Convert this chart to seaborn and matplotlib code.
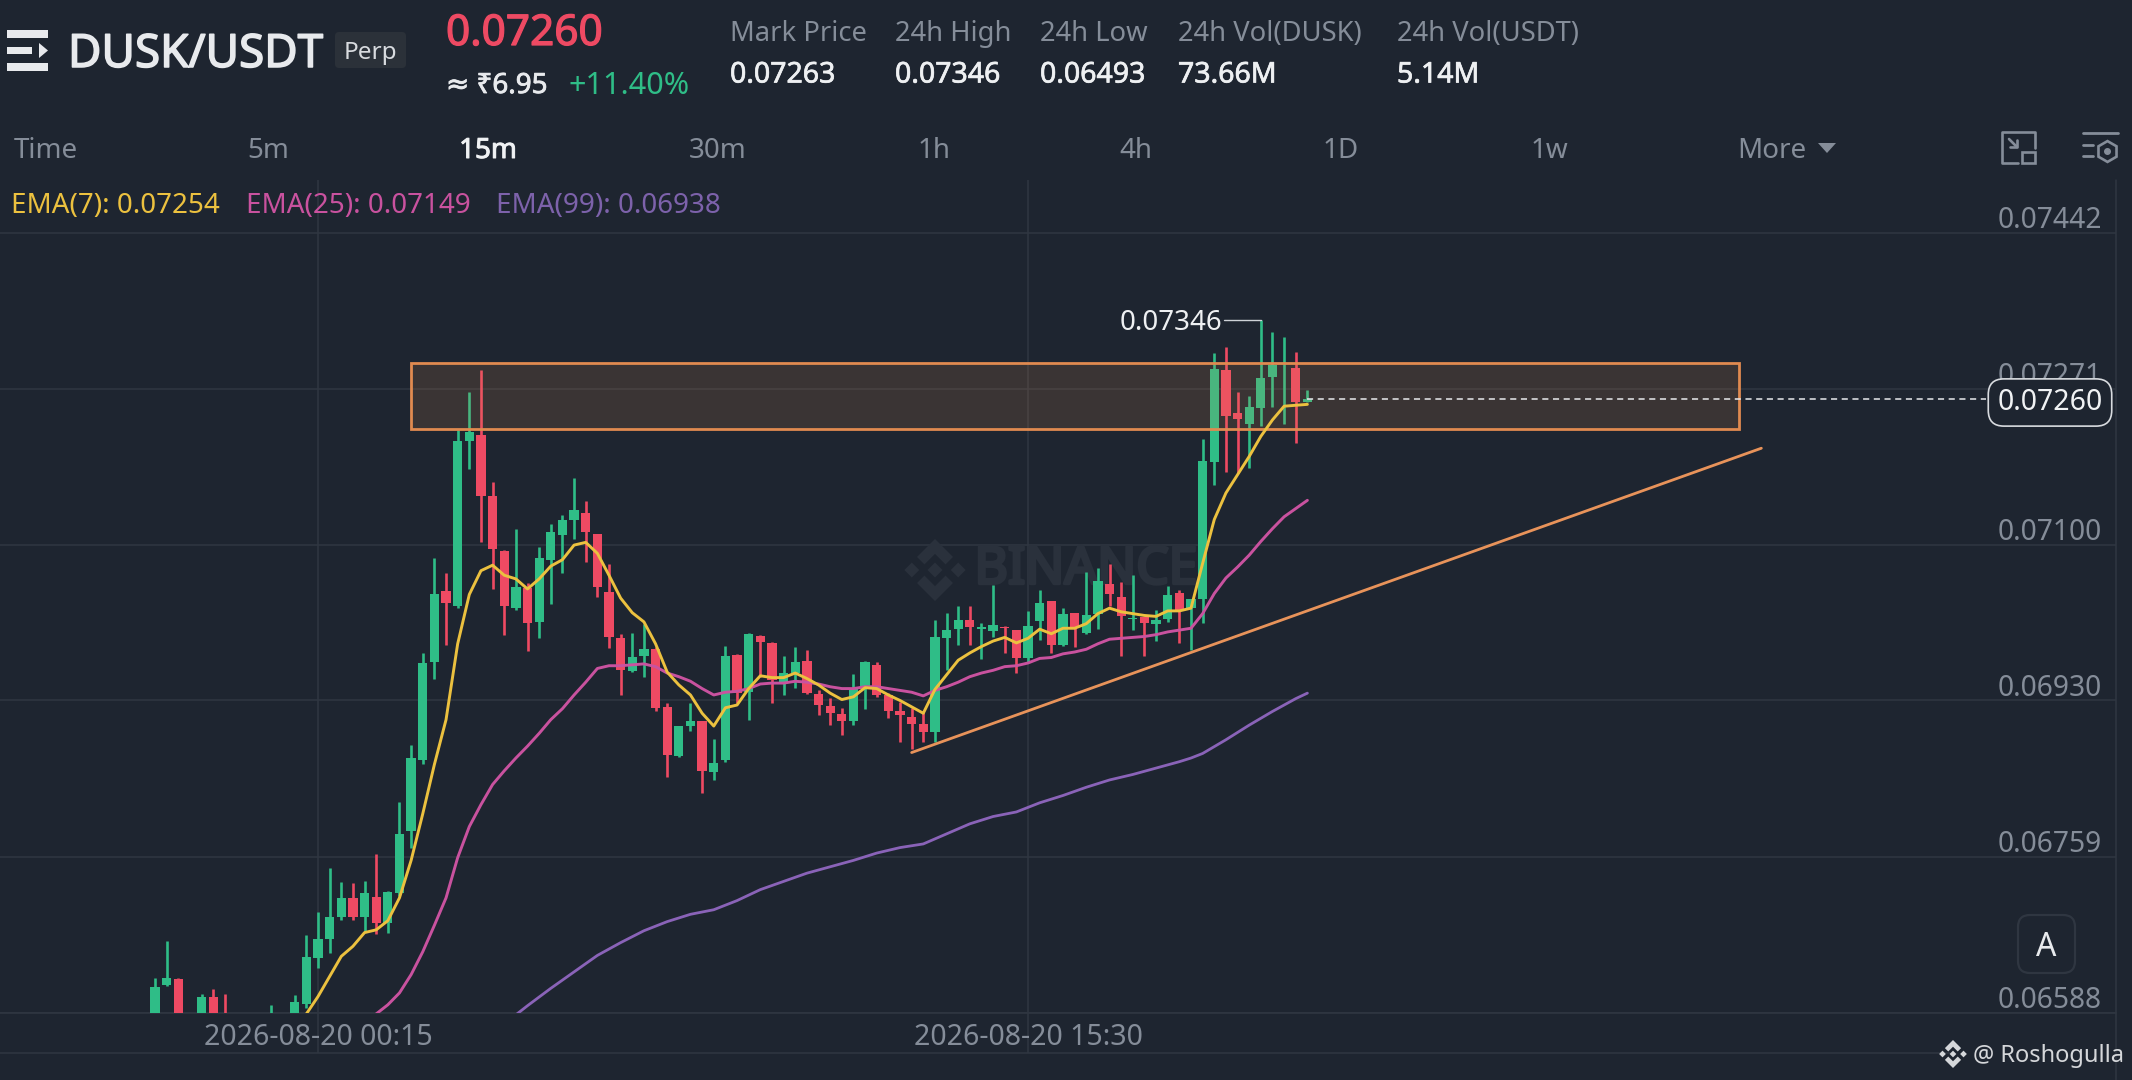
import numpy as np
import pandas as pd
import matplotlib
matplotlib.use("Agg")
import matplotlib.pyplot as plt
from matplotlib.patches import Polygon, Rectangle, FancyBboxPatch
from matplotlib.patheffects import withStroke
from matplotlib.transforms import ScaledTranslation
import seaborn as sns

# candles, oldest first. first index is 14 bars before the 00:15 tick
first_bar = -14
opens = [0.06572, 0.06619, 0.06625, 0.06560, 0.06575, 0.06605, 0.06586, 0.06570, 0.06560, 0.06570, 0.06575, 0.06572, 0.06580, 0.06598,
         0.06648, 0.06669, 0.06693, 0.06714, 0.06693, 0.06715, 0.06687, 0.06719, 0.06787, 0.06865,
         0.06972, 0.07050, 0.07033, 0.07214, 0.07221, 0.07154, 0.07093, 0.07031, 0.07053, 0.07016,
         0.07084, 0.07111, 0.07127, 0.07135, 0.07112, 0.07049, 0.06998, 0.06962, 0.06979, 0.06986,
         0.06923, 0.06869, 0.06902, 0.06907, 0.06852, 0.06865, 0.06980, 0.06939, 0.07001, 0.06993,
         0.06950, 0.06960, 0.06973, 0.06937, 0.06924, 0.06915, 0.06907, 0.06943, 0.06969, 0.06936,
         0.06919, 0.06912, 0.06904, 0.06895, 0.06998, 0.07008, 0.07018, 0.07008, 0.07006, 0.07010,
         0.07007, 0.06977, 0.07017, 0.07039, 0.06991, 0.07026, 0.07004, 0.07025, 0.07057, 0.07043,
         0.07019, 0.07021, 0.07014, 0.07019, 0.07048, 0.07031, 0.07041, 0.07191, 0.07292, 0.07244,
         0.07233, 0.07250, 0.07284, 0.07298, 0.07294, 0.07257]
highs = [0.06626, 0.06667, 0.06626, 0.06578, 0.06609, 0.06614, 0.06609, 0.06582, 0.06575, 0.06580, 0.06597, 0.06584, 0.06608, 0.06673,
         0.06699, 0.06747, 0.06731, 0.06730, 0.06732, 0.06762, 0.06722, 0.06819, 0.06881, 0.06982,
         0.07086, 0.07069, 0.07226, 0.07267, 0.07292, 0.07169, 0.07095, 0.07118, 0.07059, 0.07098,
         0.07123, 0.07133, 0.07173, 0.07148, 0.07112, 0.07079, 0.07003, 0.07004, 0.07014, 0.06988,
         0.06927, 0.06902, 0.06927, 0.06908, 0.06888, 0.06990, 0.06981, 0.07004, 0.07002, 0.06994,
         0.06979, 0.06989, 0.06985, 0.06941, 0.06933, 0.06922, 0.06959, 0.06973, 0.06972, 0.06938,
         0.06928, 0.06922, 0.06919, 0.07018, 0.07026, 0.07033, 0.07033, 0.07015, 0.07056, 0.07011,
         0.07007, 0.07028, 0.07051, 0.07039, 0.07031, 0.07026, 0.07071, 0.07075, 0.07079, 0.07060,
         0.07067, 0.07021, 0.07029, 0.07055, 0.07051, 0.07041, 0.07216, 0.07310, 0.07317, 0.07268,
         0.07263, 0.07346, 0.07333, 0.07328, 0.07311, 0.07270]
lows = [0.06565, 0.06617, 0.06560, 0.06552, 0.06570, 0.06560, 0.06560, 0.06560, 0.06550, 0.06560, 0.06570, 0.06568, 0.06576, 0.06594,
        0.06637, 0.06654, 0.06690, 0.06690, 0.06677, 0.06674, 0.06675, 0.06716, 0.06769, 0.06860,
        0.06953, 0.06991, 0.07031, 0.07183, 0.07103, 0.07052, 0.07002, 0.07029, 0.06984, 0.06998,
        0.07036, 0.07070, 0.07107, 0.07082, 0.07043, 0.06987, 0.06936, 0.06961, 0.06956, 0.06918,
        0.06846, 0.06868, 0.06897, 0.06829, 0.06843, 0.06863, 0.06927, 0.06909, 0.06956, 0.06927,
        0.06936, 0.06944, 0.06937, 0.06914, 0.06903, 0.06892, 0.06903, 0.06921, 0.06934, 0.06911,
        0.06885, 0.06877, 0.06884, 0.06885, 0.06963, 0.06991, 0.06991, 0.06975, 0.06999, 0.06982,
        0.06960, 0.06972, 0.06996, 0.06982, 0.06990, 0.06989, 0.07003, 0.07008, 0.07033, 0.06979,
        0.07007, 0.06979, 0.06995, 0.07016, 0.06993, 0.06985, 0.07015, 0.07166, 0.07180, 0.07179,
        0.07184, 0.07230, 0.07251, 0.07233, 0.07212, 0.07257]
closes = [0.06616, 0.06626, 0.06570, 0.06572, 0.06605, 0.06570, 0.06570, 0.06565, 0.06570, 0.06575, 0.06584, 0.06580, 0.06600, 0.06649,
          0.06669, 0.06693, 0.06714, 0.06693, 0.06719, 0.06687, 0.06720, 0.06784, 0.06867, 0.06971,
          0.07046, 0.07037, 0.07214, 0.07224, 0.07154, 0.07096, 0.07033, 0.07054, 0.07015, 0.07086,
          0.07114, 0.07127, 0.07138, 0.07114, 0.07054, 0.06999, 0.06963, 0.06978, 0.06986, 0.06922,
          0.06870, 0.06902, 0.06907, 0.06853, 0.06862, 0.06979, 0.06938, 0.07003, 0.06994, 0.06952,
          0.06960, 0.06972, 0.06938, 0.06925, 0.06916, 0.06908, 0.06943, 0.06972, 0.06936, 0.06918,
          0.06914, 0.06904, 0.06895, 0.06999, 0.07007, 0.07018, 0.07010, 0.07010, 0.07013, 0.07009,
          0.06977, 0.07012, 0.07037, 0.06991, 0.07025, 0.07009, 0.07024, 0.07061, 0.07047, 0.07022,
          0.07020, 0.07015, 0.07018, 0.07045, 0.07028, 0.07041, 0.07192, 0.07293, 0.07241, 0.07238,
          0.07251, 0.07283, 0.07297, 0.07299, 0.07257, 0.07260]

# moving averages
ema7_start = -1
ema7 = [0.06587, 0.06606, 0.06628, 0.06650, 0.06661, 0.06676, 0.06679, 0.06689, 0.06714, 0.06755, 0.06806,
        0.06860, 0.06909, 0.06992, 0.07046, 0.07072, 0.07078, 0.07067, 0.07063, 0.07052, 0.07063,
        0.07077, 0.07084, 0.07100, 0.07103, 0.07091, 0.07067, 0.07042, 0.07026, 0.07016, 0.06992,
        0.06961, 0.06947, 0.06936, 0.06916, 0.06902, 0.06922, 0.06925, 0.06943, 0.06957, 0.06955,
        0.06955, 0.06960, 0.06954, 0.06947, 0.06938, 0.06931, 0.06934, 0.06944, 0.06943, 0.06936,
        0.06930, 0.06923, 0.06916, 0.06942, 0.06958, 0.06974, 0.06982, 0.06989, 0.06995, 0.06999,
        0.06993, 0.06998, 0.07008, 0.07003, 0.07009, 0.07009, 0.07014, 0.07025, 0.07031, 0.07027,
        0.07025, 0.07023, 0.07022, 0.07028, 0.07028, 0.07031, 0.07080, 0.07128, 0.07157, 0.07177,
        0.07197, 0.07219, 0.07237, 0.07252, 0.07253, 0.07254]
ema25_start = 5
ema25 = [0.06587, 0.06597, 0.06610, 0.06630, 0.06655,
         0.06684, 0.06714, 0.06758, 0.06792, 0.06816, 0.06838, 0.06853, 0.06867, 0.06880, 0.06894,
         0.06909, 0.06921, 0.06936, 0.06950, 0.06965, 0.06968, 0.06968, 0.06969, 0.06970, 0.06967,
         0.06960, 0.06956, 0.06951, 0.06943, 0.06936, 0.06939, 0.06940, 0.06943, 0.06948, 0.06949,
         0.06949, 0.06951, 0.06950, 0.06948, 0.06945, 0.06943, 0.06943, 0.06945, 0.06945, 0.06943,
         0.06941, 0.06939, 0.06935, 0.06941, 0.06945, 0.06950, 0.06956, 0.06960, 0.06963, 0.06967,
         0.06968, 0.06971, 0.06976, 0.06977, 0.06981, 0.06983, 0.06986, 0.06992, 0.06997, 0.06998,
         0.06999, 0.07000, 0.07002, 0.07005, 0.07007, 0.07009, 0.07025, 0.07047, 0.07064, 0.07076,
         0.07089, 0.07104, 0.07118, 0.07131, 0.07140, 0.07149]
ema99_bars = [17, 18, 20, 22, 24, 26, 28, 30, 32, 34, 36, 38, 40, 42, 44, 46, 48, 50, 52,
              54, 56, 58, 60, 62, 64, 66, 68, 70, 72, 74, 75, 76, 78, 80, 82, 84, 85]
ema99 = [0.06586, 0.06596, 0.06615, 0.06633, 0.06651, 0.06665, 0.06678, 0.06688, 0.06696, 0.06701,
         0.06711, 0.06723, 0.06732, 0.06741, 0.06748, 0.06755, 0.06763, 0.06769, 0.06773,
         0.06784, 0.06795, 0.06803, 0.06808, 0.06818, 0.06826, 0.06835, 0.06843, 0.06849, 0.06856,
         0.06863, 0.06867, 0.06872, 0.06887, 0.06903, 0.06918, 0.06932, 0.06938]

# drawn objects on the chart
zone_bars = [8.0, 122.1]
zone_prices = [0.07227, 0.07299]
trend_bars = [51.0, 124.0]
trend_prices = [0.06873, 0.07206]
last_price = 0.07260
high_price = 0.07346
high_bar = 81

price_ticks = [0.07442, 0.07271, 0.07100, 0.06930, 0.06759, 0.06588]
time_ticks = [0, 61]
time_labels = ["2026-08-20 00:15", "2026-08-20 15:30"]

header_labels = ["Mark Price", "24h High", "24h Low", "24h Vol(DUSK)", "24h Vol(USDT)"]
header_values = ["0.07263", "0.07346", "0.06493", "73.66M", "5.14M"]
tabs = ["Time", "5m", "15m", "30m", "1h", "4h", "1D", "1w", "More"]

BG = "#1e2530"
GRID = "#2f3641"
MUTED = "#858d99"
GREEN = "#2fbd87"
RED = "#ee4a63"
ORANGE = "#e08a50"

sns.set_theme(style="dark", rc={"figure.facecolor": BG, "axes.facecolor": BG, "grid.color": GRID,
                                "grid.linewidth": 1.1, "axes.grid": True})
plt.rcParams["font.family"] = ["Noto Sans", "DejaVu Sans"]

W, H = 2132, 1080
fig = plt.figure(figsize=(W / 100, H / 100), dpi=100)
ax = fig.add_axes([0, (H - 1013) / H, 2116 / W, (1013 - 180) / H])
ax.set_xlim(-318 / 11.64, (2116 - 318) / 11.64)
ax.set_ylim(0.06588, 0.074995)
ax.set_axisbelow(True)
for side in ["top", "left", "right"]:
    ax.spines[side].set_visible(False)
ax.spines["bottom"].set_color(GRID)

# overlay in pixel coords for the app chrome
ui = fig.add_axes([0, 0, 1, 1], zorder=5)
ui.set_xlim(0, W)
ui.set_ylim(H, 0)
ui.axis("off")
ui.patch.set_alpha(0)


def heavy(color, width=0.8):
    # the installed fonts have no semi-bold cut, so thicken with a stroke
    return [withStroke(linewidth=width, foreground=color)]


def draw_logo(target, cx, cy, r, color, zorder=3):
    top = [(0, -1), (0.58, -0.42), (0.34, -0.18), (0, -0.52), (-0.34, -0.18), (-0.58, -0.42)]
    shapes = [top, [(x, -y) for x, y in top]]
    for dx in [-0.75, 0, 0.75]:
        shapes.append([(dx, -0.24), (dx + 0.24, 0), (dx, 0.24), (dx - 0.24, 0)])
    for pts in shapes:
        target.add_patch(Polygon([(cx + x * r, cy + y * r) for x, y in pts], closed=True, fc=color, ec="none",
                                 transform=ui.transData, zorder=zorder))


# watermark sits under the candles
draw_logo(ax, 935, 570, 31, "#2a313c", zorder=1)
ax.text(1086, 570, "BINANCE", transform=ui.transData, ha="center", va="center", fontsize=37, fontweight="bold",
        color="#2a313c", zorder=1, path_effects=heavy("#2a313c", 2.4))

df = pd.DataFrame({"open": opens, "high": highs, "low": lows, "close": closes})
df["bar"] = np.arange(len(df)) + first_bar
df["color"] = np.where(df["close"] >= df["open"], GREEN, RED)

ax.vlines(df["bar"], df["low"], df["high"], colors=df["color"], linewidth=1.9, zorder=3)
ax.bar(df["bar"], (df["close"] - df["open"]).abs(), bottom=df[["open", "close"]].min(axis=1), width=0.8,
       color=df["color"], linewidth=0, zorder=3)

# resistance zone
ax.add_patch(Rectangle((zone_bars[0], zone_prices[0]), zone_bars[1] - zone_bars[0], zone_prices[1] - zone_prices[0],
                       fc=(0.88, 0.54, 0.31, 0.15), ec=ORANGE, linewidth=2.0, zorder=4))

sns.lineplot(x=ema99_bars, y=ema99, ax=ax, color="#8a63b8", linewidth=2.0, estimator=None, zorder=5)
sns.lineplot(x=np.arange(len(ema25)) + ema25_start, y=ema25, ax=ax, color="#c9529f", linewidth=2.1,
             estimator=None, zorder=5)
sns.lineplot(x=np.arange(len(ema7)) + ema7_start, y=ema7, ax=ax, color="#ecc13f", linewidth=2.1,
             estimator=None, zorder=6)
sns.lineplot(x=trend_bars, y=trend_prices, ax=ax, color="#e8935a", linewidth=2.0, estimator=None, zorder=6)
ax.set_xlabel("")
ax.set_ylabel("")

# last price line and label
ax.plot([df["bar"].iloc[-1], 143.3], [last_price, last_price], color="#e8eaed", linewidth=1.1,
        linestyle=(0, (4, 3)), zorder=6)
ax.text(2050, 399, f"{last_price:.5f}", transform=ui.transData, ha="center", va="center_baseline", fontsize=20.5,
        color="#f0f2f4", zorder=10,
        bbox=dict(boxstyle="round,pad=0.32,rounding_size=0.55", fc=BG, ec="#d8dbdf", linewidth=1.2))

# 24h high marker
ax.plot([high_bar, 77.8], [high_price, high_price], color="#cfd3d8", linewidth=1.0, zorder=6)
ax.annotate(f"{high_price:.5f}", xy=(77.7, high_price), xytext=(0, -2.2), textcoords="offset points", ha="right",
            va="center", fontsize=20, color="#eef0f2", zorder=7)

ax.set_yticks(price_ticks)
ax.set_yticklabels([f"{p:.5f}" for p in price_ticks], color=MUTED, fontsize=20.3, ha="right", va="bottom")
ax.tick_params(axis="y", left=False, right=False, labelleft=False, labelright=True, pad=-10)
shift = ScaledTranslation(-6 / 72, -1.5 / 72, fig.dpi_scale_trans)
for label in ax.get_yticklabels():
    label.set_transform(label.get_transform() + shift)
ax.set_xticks(time_ticks)
ax.set_xticklabels(time_labels, color=MUTED, fontsize=20.5)
ax.tick_params(axis="x", bottom=True, length=29, width=1.1, color=GRID, pad=-22)

# frame lines under the pane
ui.plot([0, 1950], [1053, 1053], color=GRID, linewidth=1.1)
ui.plot([2116, 2116], [180, H], color=GRID, linewidth=1.1)

# header
ui.add_patch(Rectangle((7, 30), 41, 8, fc="#e8eaed", ec="none"))
ui.add_patch(Rectangle((7, 47), 25, 7, fc="#e8eaed", ec="none"))
ui.add_patch(Rectangle((7, 63), 41, 8, fc="#e8eaed", ec="none"))
ui.add_patch(Polygon([(39, 43), (48, 50.5), (39, 58)], closed=True, fc="#e8eaed", ec="none"))
ui.text(68, 55, "DUSK/USDT", fontsize=33, fontweight=600, color="#e8eaed", va="center", path_effects=heavy("#e8eaed", 1.1))
ui.add_patch(FancyBboxPatch((338, 35), 65, 30, boxstyle="round,pad=3,rounding_size=4", fc="#2b3139", ec="none"))
ui.text(370, 53, "Perp", fontsize=17.5, color="#d8dbdf", ha="center", va="center")
ui.text(446, 34, "0.07260", fontsize=30.5, fontweight="bold", color=RED, va="center", path_effects=heavy(RED, 0.9))
ui.text(446, 86, "≈ ₹6.95", fontsize=20, fontweight=500, color="#e8eaed", va="center", path_effects=heavy("#e8eaed", 0.6))
ui.text(568, 86, "+11.40%", fontsize=22, color=GREEN, va="center")
for x, label, value in zip([730, 895, 1040, 1178, 1397], header_labels, header_values):
    ui.text(x, 34, label, fontsize=19.7, color=MUTED, va="center")
    ui.text(x, 75, value, fontsize=20.5, fontweight=500, color="#eef0f2", va="center", path_effects=heavy("#eef0f2", 0.5))

# interval tabs
for x, tab in zip([46, 268, 488, 718, 934, 1136, 1341, 1549, 1772], tabs):
    active = tab == "15m"
    ui.text(x, 151, tab, fontsize=20, ha="center", va="center", color="#f0f2f4" if active else MUTED,
            fontweight="bold" if active else "normal", path_effects=heavy("#f0f2f4", 0.7) if active else None)
ui.add_patch(Polygon([(1818, 143), (1836, 143), (1827, 153)], closed=True, fc=MUTED, ec="none"))

# toolbar icons
ui.plot([2018, 2002, 2002, 2035, 2035], [163, 163, 132, 132, 148], color=MUTED, linewidth=1.9)
ui.add_patch(Rectangle((2022, 152), 13, 11, fc=BG, ec=MUTED, linewidth=1.9))
ui.plot([2009, 2017], [139, 147], color=MUTED, linewidth=1.9)
ui.plot([2017, 2017, 2010], [140, 147, 147], color=MUTED, linewidth=1.9)
ui.plot([2083, 2118], [133, 133], color=MUTED, linewidth=2.0)
ui.plot([2083, 2093], [145, 145], color=MUTED, linewidth=2.0)
ui.plot([2083, 2093], [156, 156], color=MUTED, linewidth=2.0)
ui.plot([2107], [151], marker="h", markersize=15, mfc="none", mec=MUTED, mew=1.9)
ui.plot([2107], [151], marker="o", markersize=4, color=MUTED)

# EMA legend
ui.text(11, 206, f"EMA(7): {ema7[-1]:.5f}", fontsize=20, color="#ecc13f", va="center")
ui.text(246, 206, f"EMA(25): {ema25[-1]:.5f}", fontsize=20, color="#c9529f", va="center")
ui.text(496, 206, f"EMA(99): {ema99[-1]:.5f}", fontsize=20, color="#7d62ab", va="center")

# auto-scale button and credit
ui.add_patch(FancyBboxPatch((2030, 927), 33, 34, boxstyle="round,pad=12,rounding_size=12", fc=BG, ec=GRID, linewidth=1.6))
ui.text(2046, 947, "A", fontsize=23, color="#e8eaed", ha="center", va="center")
draw_logo(ui, 1953, 1054, 14, "#d5d7da", zorder=6)
ui.text(1973, 1056, "@ Roshogulla", fontsize=17, color="#d5d7da", va="center")

fig.savefig("out.png", dpi=100)
